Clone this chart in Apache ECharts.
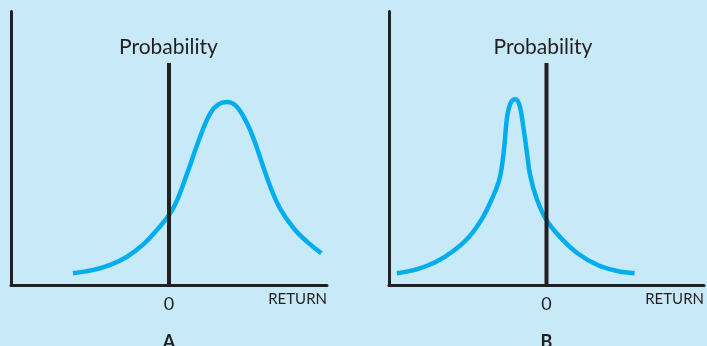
<!DOCTYPE html>
<html><head><meta charset="utf-8">
<script src="https://cdn.jsdelivr.net/npm/echarts@6/dist/echarts.min.js"></script>
<style>html,body{margin:0;padding:0;background:#c8e9f8;}#c{width:707px;height:346px;}</style>
</head><body><div id="c"></div><script>
// Panel A: skewed-right distribution
const returnA = [-6.08,-4.77,-3.72,-2.66,-1.61,-0.76,0.0,0.51,1.16,1.97,2.61,3.10,3.67,4.25,4.94,5.46,5.89,6.41,7.04,7.89,8.73,9.64];
const probA   = [0.45,0.57,0.75,1.05,1.51,2.03,2.57,3.11,4.11,5.43,6.28,6.60,6.70,6.55,5.92,5.19,4.46,3.61,2.80,2.09,1.60,1.18];
// Panel B: peaked distribution
const returnB = [-9.50,-8.25,-7.00,-5.96,-4.91,-4.08,-3.45,-3.03,-2.82,-2.65,-2.51,-2.29,-1.98,-1.70,-1.46,-1.25,-1.04,-0.63,0.0,0.94,1.99,3.24,4.49,5.60];
const probB   = [0.45,0.59,0.87,1.24,1.78,2.45,3.18,3.79,4.40,5.25,6.11,6.65,6.80,6.55,5.74,4.88,4.03,3.18,2.39,1.72,1.17,0.75,0.53,0.45];
const zeroLineTop = 8.12;
const tickLabels = {0: '0'};
const axisName = 'RETURN';
const yLabel = 'Probability';
const panelNames = ['A', 'B'];

const FONT = 'Lato';
const INK = '#231f20';
const CURVE = '#00aeef';

const chart = echarts.init(document.getElementById('c'));
function pairs(xs, ys){ return xs.map((x,i)=>[x, ys[i]]); }

const grids = [
  {left: 11, top: 11.5, width: 316, height: 274},
  {left: 389, top: 11.5, width: 319, height: 274}
];
const xAxes = grids.map((g,i)=>({
  type:'value', gridIndex:i, min:-10, max:10, interval:10,
  axisLine:{show:true, onZero:false, lineStyle:{color:INK, width:3}},
  axisTick:{show:false}, splitLine:{show:false},
  axisLabel:{formatter:v=>tickLabels[v]||'', color:INK, fontFamily:FONT, fontSize:18, margin:10},
  name: axisName, nameLocation:'end', nameGap:0,
  nameTextStyle:{color:INK, fontFamily:FONT, fontSize:15, align:'right', verticalAlign:'top', padding:[6,0,0,0]}
}));
const yAxes = grids.map((g,i)=>({
  type:'value', gridIndex:i, min:0, max:10,
  axisLine:{show:true, onZero:false, lineStyle:{color:INK, width:3}},
  axisTick:{show:false}, splitLine:{show:false}, axisLabel:{show:false}
}));
const curves = [pairs(returnA, probA), pairs(returnB, probB)];
const series = [];
curves.forEach((d,i)=>{
  series.push({type:'line', xAxisIndex:i, yAxisIndex:i, data:d, smooth:0.4, symbol:'none',
    lineStyle:{color:CURVE, width:4.5}, z:2, silent:true});
  series.push({type:'line', xAxisIndex:i, yAxisIndex:i, data:[[0,0],[0,zeroLineTop]], symbol:'none',
    lineStyle:{color:INK, width:4}, z:3, silent:true});
});

chart.setOption({
  backgroundColor:'#c8e9f8',
  animation:false,
  grid: grids,
  xAxis: xAxes,
  yAxis: yAxes,
  series: series
});

const graphics = [];
[0,1].forEach(i=>{
  const top = chart.convertToPixel({gridIndex:i}, [0, zeroLineTop]);
  const bot = chart.convertToPixel({gridIndex:i}, [0, 0]);
  graphics.push({type:'text', x: top[0] - (i===0?0.5:3.5), y: top[1]-5, style:{text:yLabel, fill:INK, font:'21px '+FONT, textAlign:'center', textVerticalAlign:'bottom'}});
  graphics.push({type:'text', x: bot[0], y: bot[1]+57, style:{text:panelNames[i], fill:INK, font:'bold 18px '+FONT, textAlign:'center', textVerticalAlign:'middle'}});
});
chart.setOption({graphic: graphics});
</script></body></html>
